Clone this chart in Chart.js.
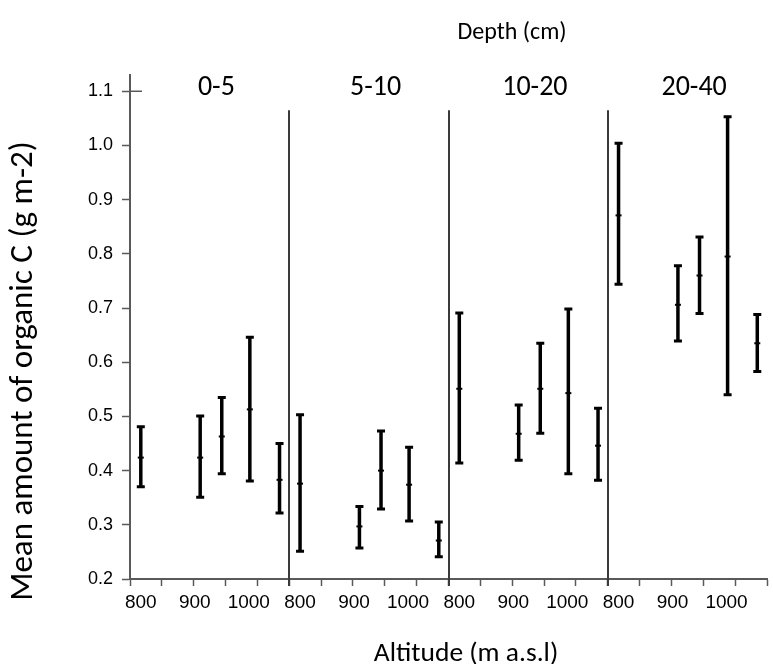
<!DOCTYPE html>
<html><head><meta charset="utf-8">
<script src="https://cdn.jsdelivr.net/npm/chart.js@4.4.1/dist/chart.umd.min.js"></script>
<style>html,body{margin:0;padding:0;background:#fff;}#wrap{width:773px;height:664px;position:relative;}</style>
</head><body><div id="wrap"><canvas id="c" width="773" height="664"></canvas></div>
<script>
// ---- data ----
const depths = ['0-5', '5-10', '10-20', '20-40'];
const altitudes = [800, 910, 950, 1002, 1057];
const altLabels = [800, 900, 1000];
const yTicks = [0.2, 0.3, 0.4, 0.5, 0.6, 0.7, 0.8, 0.9, 1.0, 1.1];

const mean_0_5 = [0.424, 0.424, 0.463, 0.513, 0.383];
const low_0_5  = [0.370, 0.351, 0.394, 0.381, 0.322];
const high_0_5 = [0.481, 0.501, 0.535, 0.646, 0.450];

const mean_5_10 = [0.376, 0.297, 0.400, 0.374, 0.271];
const low_5_10  = [0.251, 0.257, 0.329, 0.307, 0.241];
const high_5_10 = [0.503, 0.334, 0.473, 0.443, 0.305];

const mean_10_20 = [0.551, 0.468, 0.551, 0.543, 0.446];
const low_10_20  = [0.414, 0.419, 0.469, 0.394, 0.382];
const high_10_20 = [0.691, 0.521, 0.635, 0.698, 0.515];

const mean_20_40 = [0.871, 0.706, 0.760, 0.795, 0.635];
const low_20_40  = [0.744, 0.639, 0.690, 0.540, 0.583];
const high_20_40 = [1.004, 0.778, 0.831, 1.053, 0.688];

const means = [mean_0_5, mean_5_10, mean_10_20, mean_20_40];
const lows  = [low_0_5, low_5_10, low_10_20, low_20_40];
const highs = [high_0_5, high_5_10, high_10_20, high_20_40];

// ---- panel layout of the x axis (each depth gets its own altitude strip) ----
const ALT_START = 780, PANEL_W = 295, GRID_STEPS = 5, LABEL_ALT = 940;
const toX = (panel, alt) => panel * PANEL_W + (alt - ALT_START);

const datasets = depths.map((d, p) => ({
  label: d,
  data: altitudes.map((a, i) => ({x: toX(p, a), y: means[p][i]})),
  errLow: lows[p],
  errHigh: highs[p],
  showLine: false,
  pointStyle: 'line',
  pointRadius: 3,
  borderWidth: 2,
  borderColor: '#000',
  backgroundColor: '#000'
}));

const TITLE_FONT = 'Carlito, Calibri, Lato, sans-serif';
const AXIS_COLOR = '#595959';

const decorPlugin = {
  id: 'decor',
  afterDatasetsDraw(chart) {
    const {ctx, scales: {x, y}, chartArea} = chart;
    ctx.save();
    // error bars
    ctx.strokeStyle = '#000';
    chart.data.datasets.forEach(ds => {
      ds.data.forEach((pt, i) => {
        const px = x.getPixelForValue(pt.x);
        const yl = y.getPixelForValue(ds.errLow[i]);
        const yh = y.getPixelForValue(ds.errHigh[i]);
        ctx.lineWidth = 3.5;
        ctx.beginPath(); ctx.moveTo(px, yl); ctx.lineTo(px, yh); ctx.stroke();
        ctx.lineWidth = 3;
        ctx.beginPath();
        ctx.moveTo(px - 4, yl); ctx.lineTo(px + 4, yl);
        ctx.moveTo(px - 4, yh); ctx.lineTo(px + 4, yh);
        ctx.stroke();
      });
    });
    // panel dividers
    ctx.strokeStyle = '#3a3a3a';
    ctx.lineWidth = 2;
    for (let p = 1; p < depths.length; p++) {
      const px = Math.round(x.getPixelForValue(p * PANEL_W));
      ctx.beginPath();
      ctx.moveTo(px, y.getPixelForValue(1.065));
      ctx.lineTo(px, chartArea.bottom + 7);
      ctx.stroke();
    }
    // cross tick at top y tick
    ctx.strokeStyle = AXIS_COLOR;
    ctx.lineWidth = 1.5;
    const yt = y.getPixelForValue(yTicks[yTicks.length - 1]);
    ctx.beginPath(); ctx.moveTo(chartArea.left, yt); ctx.lineTo(chartArea.left + 12, yt); ctx.stroke();
    // depth labels
    ctx.fillStyle = '#000';
    ctx.textAlign = 'center';
    ctx.textBaseline = 'middle';
    ctx.font = '28px ' + TITLE_FONT;
    depths.forEach((d, p) => {
      ctx.fillText(d, x.getPixelForValue(toX(p, LABEL_ALT)), 88);
    });
    // titles
    ctx.font = '24px ' + TITLE_FONT;
    ctx.fillText('Depth (cm)', 512, 33);
    ctx.font = '27.5px ' + TITLE_FONT;
    ctx.fillText('Altitude (m a.s.l)', 466, 654);
    ctx.save();
    ctx.translate(24, 371);
    ctx.rotate(-Math.PI / 2);
    ctx.font = '33px ' + TITLE_FONT;
    ctx.fillText('Mean amount of organic C (g m-2)', 0, 0);
    ctx.restore();
    ctx.restore();
  }
};

new Chart(document.getElementById('c'), {
  type: 'scatter',
  data: {datasets},
  options: {
    responsive: false,
    animation: false,
    layout: {padding: {top: 75, right: 0, left: 0, bottom: 0}},
    plugins: {legend: {display: false}, tooltip: {enabled: false}, title: {display: false}},
    scales: {
      x: {
        type: 'linear',
        min: 0,
        max: depths.length * PANEL_W,
        afterFit(s) { s.height = 85; },
        afterBuildTicks(s) {
          const t = [];
          for (let k = 0; k <= depths.length * GRID_STEPS; k++) {
            t.push({value: k * PANEL_W / GRID_STEPS, isGrid: true});
          }
          for (let p = 0; p < depths.length; p++) {
            altLabels.forEach(a => t.push({value: toX(p, a), isGrid: false, txt: String(a)}));
          }
          t.sort((a, b) => a.value - b.value);
          s.ticks = t;
        },
        ticks: {
          autoSkip: false,
          maxRotation: 0,
          padding: 5,
          color: '#000',
          font: {family: 'Liberation Sans, Arial, sans-serif', size: 19},
          callback(v, i, ticks) { return ticks[i].isGrid ? '' : ticks[i].txt; }
        },
        grid: {
          drawOnChartArea: false,
          tickLength: 7,
          tickWidth: 1.5,
          tickColor: (c) => (c.tick && c.tick.isGrid) ? AXIS_COLOR : 'rgba(0,0,0,0)'
        },
        border: {color: AXIS_COLOR, width: 2}
      },
      y: {
        type: 'linear',
        min: 0.2,
        max: 1.13,
        afterFit(s) { s.width = 130; },
        afterBuildTicks(s) { s.ticks = yTicks.map(v => ({value: v})); },
        ticks: {
          padding: 9,
          color: '#000',
          font: {family: 'Liberation Sans, Arial, sans-serif', size: 18},
          callback: (v) => Number(v).toFixed(1)
        },
        grid: {drawOnChartArea: false, tickLength: 8, tickWidth: 1.5, tickColor: AXIS_COLOR},
        border: {color: AXIS_COLOR, width: 2}
      }
    }
  },
  plugins: [decorPlugin]
});
</script>
</body></html>
